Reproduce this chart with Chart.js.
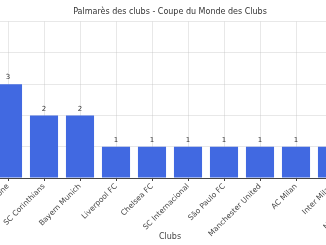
<!DOCTYPE html>
<html>
<head>
<meta charset="utf-8">
<script src="https://cdn.jsdelivr.net/npm/chart.js@4.4.1/dist/chart.umd.min.js"></script>
<style>
  html, body { margin: 0; padding: 0; background: #fff; overflow: hidden; width: 326px; height: 245px; }
  #wrap { position: absolute; left: -100px; top: 0; width: 540px; height: 245px; }
</style>
</head>
<body>
<div id="wrap"><canvas id="c" width="540" height="245"></canvas></div>
<script>
const clubs = ["Real Madrid", "FC Barcelone", "SC Corinthians", "Bayern Munich", "Liverpool FC", "Chelsea FC", "SC Internacional", "São Paulo FC", "Manchester United", "AC Milan", "Inter Milan", "Manchester City"];
const titres = [5, 3, 2, 2, 1, 1, 1, 1, 1, 1, 1, 1];
const yTicks = [0, 1, 2, 3, 4, 5];

const FONT = "'DejaVu Sans', sans-serif";

const valueLabels = {
  id: 'valueLabels',
  afterDatasetsDraw(chart) {
    const ctx = chart.ctx;
    const meta = chart.getDatasetMeta(0);
    ctx.save();
    ctx.font = "7px " + FONT;
    ctx.fillStyle = '#333';
    ctx.textAlign = 'center';
    ctx.textBaseline = 'middle';
    meta.data.forEach((bar, i) => {
      ctx.fillText(String(titres[i]), bar.x, bar.y - 6.5);
    });
    ctx.restore();
  }
};

new Chart(document.getElementById('c'), {
  type: 'bar',
  data: {
    labels: clubs,
    datasets: [{
      data: titres,
      backgroundColor: '#4169E1',
      borderWidth: 0,
      barPercentage: 0.78,
      categoryPercentage: 1.0
    }]
  },
  options: {
    responsive: false,
    animation: false,
    layout: { padding: { left: 54, right: 54, top: 0, bottom: 0 } },
    plugins: {
      legend: { display: false },
      tooltip: { enabled: false },
      title: {
        display: true,
        text: 'Palmarès des clubs - Coupe du Monde des Clubs',
        color: '#333',
        font: { family: FONT, size: 8, weight: 'normal' },
        padding: { top: 7.5, bottom: 4.5 }
      }
    },
    scales: {
      x: {
        z: 1,
        offset: true,
        grid: {
          offset: false,
          color: 'rgba(190,190,190,0.35)',
          tickColor: '#444',
          tickLength: 3,
          drawTicks: true
        },
        border: { color: '#444', width: 1 },
        ticks: {
          color: '#444',
          font: { family: FONT, size: 7.5 },
          minRotation: 45,
          maxRotation: 45,
          padding: 1,
          autoSkip: false
        },
        title: {
          display: true,
          text: 'Clubs',
          color: '#444',
          font: { family: FONT, size: 8 },
          padding: { top: 0, bottom: 3 }
        },
        afterFit(scale) { scale.height = 67; }
      },
      y: {
        z: 1,
        min: 0,
        max: 5,
        afterBuildTicks(scale) { scale.ticks = yTicks.map(v => ({ value: v })); },
        grid: { color: 'rgba(190,190,190,0.35)', tickColor: '#444', tickLength: 3 },
        border: { display: false },
        ticks: { color: '#444', font: { family: FONT, size: 7.5 } },
        afterFit(scale) { scale.width = 0; }
      }
    }
  },
  plugins: [valueLabels]
});
</script>
</body>
</html>
